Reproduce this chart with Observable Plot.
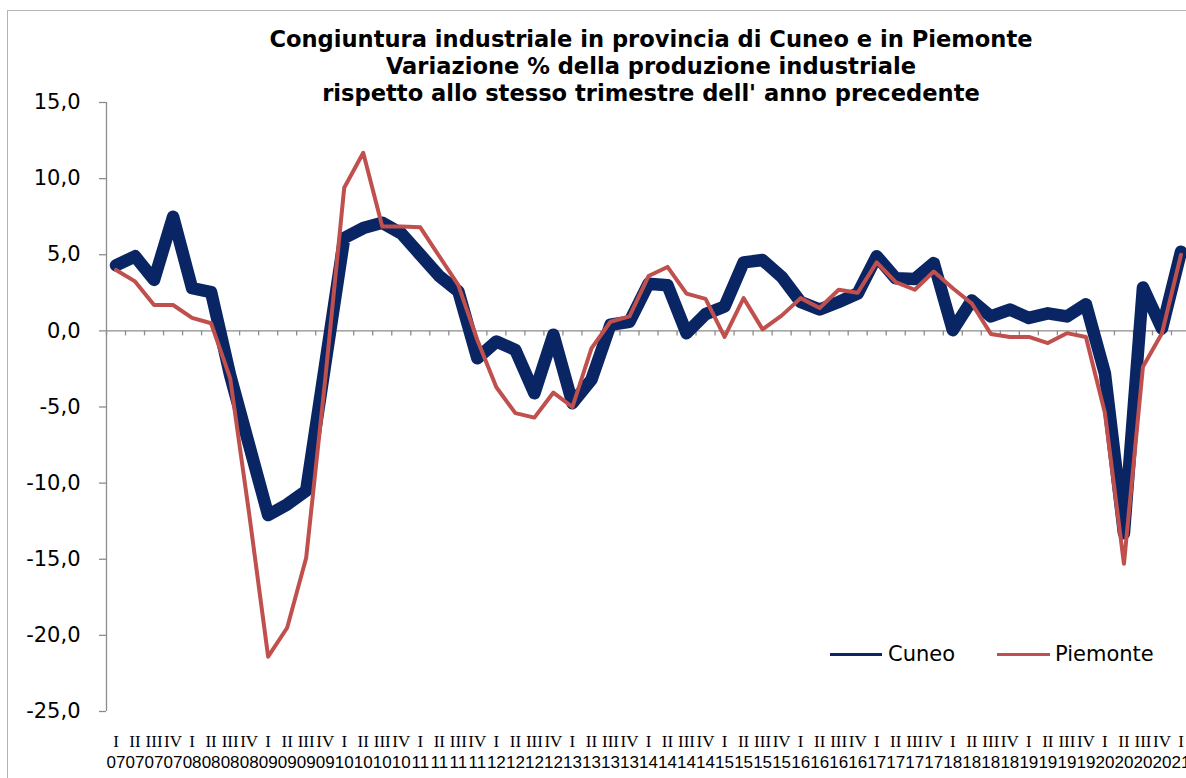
<!DOCTYPE html>
<html><head><meta charset="utf-8">
<script src="https://cdn.jsdelivr.net/npm/d3@7"></script>
<script src="https://cdn.jsdelivr.net/npm/@observablehq/plot@0.6"></script>
<style>
html,body{margin:0;padding:0;background:#fff;overflow:hidden}
#wrap{position:relative;width:1186px;height:778px;overflow:hidden}
#border{position:absolute;left:7px;top:10px;width:1300px;height:900px;border:1px solid #b4b4b4;box-sizing:border-box}
#chart{position:absolute;left:0;top:0}
#title{position:absolute;left:0;top:26px;width:1302px;text-align:center;font-family:"DejaVu Sans",sans-serif;font-weight:bold;font-size:22.6px;line-height:27px;color:#000}
.leg{position:absolute;font-family:"DejaVu Sans",sans-serif;font-size:21px;line-height:24px;color:#000}
.legline{position:absolute;height:3px}
</style>
</head><body>
<div id="wrap">
  <div id="border"></div>
  <div id="chart"></div>
  <div id="title">Congiuntura industriale in provincia di Cuneo e in Piemonte<br>Variazione % della produzione industriale<br>rispetto allo stesso trimestre dell' anno precedente</div>
  <div class="legline" style="left:830px;top:653px;width:52px;background:#0a2563"></div>
  <div class="leg" style="left:888px;top:642px">Cuneo</div>
  <div class="legline" style="left:997px;top:653px;width:53px;background:#c0504d"></div>
  <div class="leg" style="left:1055px;top:642px">Piemonte</div>
</div>
<script>
const romans = ["I","II","III","IV"];
const years = ["07","08","09","10","11","12","13","14","15","16","17","18","19","20","21"];
const quarterRoman = [];
const quarterYear = [];
for (const y of years) for (const r of romans) { if (quarterRoman.length < 57) { quarterRoman.push(r); quarterYear.push(y); } }

const cuneo = [
  4.3, 4.9, 3.35, 7.5,
  2.8, 2.55, -2.9, -7.5,
  -12.1, -11.4, -10.5, -2.2,
  6.1, 6.75, 7.1, 6.4,
  5.0, 3.6, 2.6, -1.8,
  -0.7, -1.25, -4.1, -0.25,
  -4.75, -3.2, 0.4, 0.6,
  3.1, 3.0, -0.15, 1.1,
  1.6, 4.5, 4.65, 3.55,
  1.9, 1.4, 1.9, 2.45,
  4.9, 3.45, 3.4, 4.45,
  0.05, 2.0, 0.95, 1.4,
  0.85, 1.15, 0.95, 1.75,
  -2.8, -13.3, 2.85, 0.15,
  5.2
];
const piemonte = [
  4.0, 3.25, 1.7, 1.7,
  0.85, 0.5, -3.1, -12.0,
  -21.4, -19.5, -14.9, -3.2,
  9.4, 11.7, 6.85, 6.85,
  6.8, 4.9, 3.0, -0.6,
  -3.7, -5.4, -5.7, -4.05,
  -5.0, -1.15, 0.6, 0.95,
  3.6, 4.2, 2.45, 2.1,
  -0.4, 2.15, 0.1, 1.0,
  2.15, 1.5, 2.7, 2.5,
  4.5, 3.2, 2.7, 3.9,
  2.8, 1.8, -0.2, -0.4,
  -0.4, -0.8, -0.15, -0.4,
  -5.4, -15.3, -2.35, -0.15,
  5.0
];
const yTicks = [-25, -20, -15, -10, -5, 0, 5, 10, 15];
const yTickLabel = d => d.toFixed(1).replace(".", ",");

const idx = d3.range(quarterRoman.length);
const boundaries = d3.range(quarterRoman.length + 1).map(i => i - 0.5);
const gray = "#8c8c8c";

const chart = Plot.plot({
  width: 1186,
  height: 778,
  marginLeft: 106,
  marginRight: -4,
  marginTop: 102,
  marginBottom: 67,
  style: {background: "transparent", color: "#000"},
  x: {domain: [-0.5, quarterRoman.length - 0.5], axis: null},
  y: {domain: [-25, 15], axis: null},
  marks: [
    Plot.ruleX([-0.5], {stroke: gray, strokeWidth: 1.3}),
    Plot.axisY({ticks: yTicks, tickFormat: yTickLabel, tickSize: 7, tickPadding: 19, fontSize: 21, fontFamily: "DejaVu Sans", stroke: gray, strokeWidth: 1.3}),
    Plot.ruleY([0], {stroke: gray, strokeWidth: 1.3}),
    Plot.ruleX(boundaries, {x: d => d, y1: () => 0, y2: () => 0, insetBottom: -5, stroke: gray, strokeWidth: 1.3}),
    Plot.line(idx, {x: i => i, y: i => cuneo[i], stroke: "#0a2563", strokeWidth: 12.5, strokeLinejoin: "round", strokeLinecap: "round"}),
    Plot.line(idx, {x: i => i, y: i => piemonte[i], stroke: "#c0504d", strokeWidth: 4, strokeLinejoin: "round", strokeLinecap: "round"}),
    Plot.text(idx, {x: i => i, text: i => quarterRoman[i], frameAnchor: "bottom", dy: 35, fontFamily: "Liberation Serif", fontSize: 17}),
    Plot.text(idx, {x: i => i, text: i => quarterYear[i], frameAnchor: "bottom", dy: 56, fontFamily: "Liberation Sans", fontSize: 17})
  ]
});
document.getElementById("chart").appendChild(chart);
</script>
</body></html>
